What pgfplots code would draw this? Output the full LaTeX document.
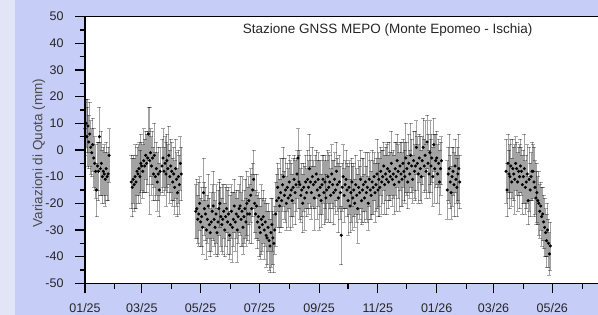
\documentclass[border=0pt]{standalone}
\usepackage{pgfplots}
\pgfplotsset{compat=1.18}
\usepackage{pgfplotstable}
\usepackage{fontspec}
\setmainfont{Liberation Sans}
\definecolor{bgcol}{HTML}{C6CDF6}
\definecolor{stripcol}{HTML}{E2E5F8}

\pgfplotstableread{
d y e
0 8 10
1 10 9
2 5 11
3 9 10
4 3 10
5 6 12
6 1 10
7 -1 9
8 2 10
9 -3 11
10 -5 10
11 -8 10
12 -15 10
13 -6 9
14 -8 11
15 5 11
16 -7 10
17 -5 12
18 -10 10
19 -8 9
20 -9 11
21 -11 10
22 -7 10
23 -10 9
24 -9 10
25 -2 10
48 -12 10
49 -14 11
50 -11 9
51 -13 10
52 -10 12
53 -12 10
54 -8 9
55 -9 11
56 -7 10
57 -10 10
58 -5 11
59 -6 9
60 -8 10
61 -4 12
62 -6 10
63 -2 9
64 -5 11
65 -3 10
66 6 10
67 -4 20
68 -1 9
69 -6 11
70 -3 10
71 -9 10
72 -2 12
73 -10 9
74 -7 10
75 -12 11
76 -9 10
77 -15 10
78 -8 9
80 -6 10
81 -3 11
82 -8 9
83 -5 10
84 -9 12
85 -4 10
86 -7 9
87 -2 11
88 -10 10
89 -6 10
90 -8 11
91 -12 9
92 -9 10
93 -14 10
94 -7 11
95 -11 10
96 -16 9
97 -10 10
98 -13 11
99 -5 10
100 -9 10
115 -23 10
116 -22 11
117 -26 9
118 -24 12
119 -20 10
120 -27 9
121 -25 11
122 -29 10
123 -16 13
124 -22 10
125 -24 10
126 -30 11
127 -26 9
128 -21 12
129 -28 10
130 -31 9
131 -27 11
132 -23 10
133 -21 13
134 -26 10
135 -29 10
136 -24 11
137 -31 9
138 -27 12
139 -22 10
140 -20 9
141 -25 11
142 -28 10
143 -26 13
144 -23 10
145 -30 10
146 -25 11
147 -22 9
148 -27 12
149 -24 10
150 -32 9
151 -28 11
152 -23 10
153 -29 13
154 -26 10
155 -21 10
156 -27 11
157 -24 9
158 -30 12
159 -25 10
160 -22 9
161 -21 11
162 -26 10
163 -23 13
164 -29 10
165 -25 10
166 -22 11
167 -27 9
168 -20 12
169 -24 10
170 -19 9
171 -24 11
172 -17 10
173 -22 13
174 -15 10
175 -11 11
176 -20 11
177 -24 9
178 -21 12
179 -27 10
180 -25 9
181 -29 11
182 -31 10
183 -26 13
184 -28 10
185 -25 10
186 -30 11
187 -27 9
188 -32 12
189 -33 10
190 -29 9
191 -34 11
192 -36 10
193 -31 13
194 -28 10
195 -33 10
196 -35 11
197 -30 9
198 -24 12
199 -19 10
200 -14 9
201 -18 11
202 -21 10
203 -16 13
204 -19 10
205 -13 10
206 -10 11
207 -17 9
208 -15 12
209 -20 10
210 -14 9
211 -18 11
212 -12 10
213 -17 13
214 -15 10
215 -19 10
216 -14 11
217 -11 9
218 -16 12
219 -13 10
220 -9 9
221 -3 11
222 -12 10
223 -13 13
224 -17 10
225 -15 10
226 -20 11
227 -14 9
228 -18 12
229 -12 10
230 -16 9
231 -11 11
232 -14 10
233 -7 13
234 -12 10
235 -16 10
236 -10 11
237 -13 9
238 -18 12
239 -12 10
240 -9 9
241 -15 11
242 -11 10
243 -17 13
244 -14 10
245 -19 10
246 -13 11
247 -11 9
248 -16 12
249 -12 10
250 -18 9
251 -15 11
252 -10 10
253 -14 13
254 -12 10
255 -17 10
256 -9 11
257 -13 9
258 -16 12
259 -11 10
260 -15 9
261 -8 11
262 -13 10
263 -18 13
264 -12 10
265 -16 10
266 -32 11
267 -14 9
268 -10 12
269 -17 10
270 -13 9
271 -11 11
272 -15 10
273 -19 13
274 -14 10
275 -21 10
276 -16 11
277 -12 9
278 -18 12
279 -15 10
280 -20 9
281 -13 11
282 -17 10
283 -22 13
284 -14 10
285 -16 10
286 -11 11
287 -19 9
288 -15 12
289 -13 10
290 -18 9
291 -12 11
292 -16 10
293 -14 13
294 -20 10
295 -11 10
296 -15 11
297 -17 9
298 -12 12
299 -14 10
300 -10 9
301 -16 11
302 -13 10
303 -9 13
304 -15 10
305 -11 10
306 -14 11
307 -8 9
308 -12 12
309 -10 10
310 -6 9
311 -13 11
312 -9 10
313 -11 13
314 -7 10
315 -12 10
316 -8 11
317 -10 9
318 -5 12
319 -11 10
320 -9 9
321 -13 11
322 -7 10
323 -10 13
324 -4 10
325 -8 10
326 -12 11
327 -6 9
328 -9 12
329 -11 10
330 -5 9
331 -8 11
332 -10 10
333 -3 13
334 -7 10
335 -12 10
336 -5 11
337 -9 9
338 -2 12
339 -6 10
340 -11 9
341 -4 11
342 -8 10
343 -6 13
344 1 10
345 -5 10
346 -9 11
347 -3 9
348 -7 12
349 -10 10
350 -4 9
351 1 11
352 -6 10
353 -2 13
354 -8 10
355 3 10
356 -5 11
357 -9 9
358 -1 12
359 -6 10
360 -3 9
361 -10 11
362 2 10
363 -7 13
364 -4 10
365 -3 10
366 -9 11
367 -5 9
368 -12 12
369 -7 10
370 -4 9
376 -15 11
377 -9 10
378 -7 13
379 -12 10
380 -16 10
381 -10 11
382 -8 9
383 -13 12
384 -6 10
385 -11 9
386 -14 11
387 -9 10
388 -7 13
389 -12 10
437 -8 12
438 -15 10
439 -5 11
440 -9 9
441 -10 12
442 -6 10
443 -12 9
444 -7 11
445 -9 10
446 -11 13
447 -5 10
448 -7 10
449 -12 11
450 -8 9
451 -10 12
452 -6 10
453 -8 9
454 -13 11
455 -10 10
456 -7 13
457 -14 10
458 -12 10
459 -9 11
460 -19 9
461 -11 12
462 -15 10
463 -10 9
464 -8 11
465 -8 10
466 -12 13
467 -14 10
468 -18 10
469 -16 11
470 -19 9
471 -20 12
472 -23 10
473 -21 9
474 -25 11
475 -24 10
476 -27 10
477 -29 11
478 -31 9
479 -34 10
480 -30 10
481 -35 9
482 -39 8
483 -36 9
}\gnss

\begin{document}
\begin{tikzpicture}[x=1pt,y=1pt]
\useasboundingbox (0,0) rectangle (598,315);
\fill[bgcol] (0,0) rectangle (598,315);
\fill[stripcol] (0,0) rectangle (15,315);
\clip (0,0) rectangle (598,315);
\begin{axis}[
  at={(85pt,31.7pt)}, anchor=south west,
  scale only axis, width=539.56pt, height=266.6pt,
  xmin=0, xmax=560, ymin=-50, ymax=50,
  axis background/.style={fill=white},
  axis line style={black, line width=1.2pt},
  tick style={black, line width=1.1pt},
  tick align=outside,
  major tick length=10pt, minor tick length=5.5pt,
  xtick pos=bottom, ytick pos=left,
  xtick={0,59,120,181,243,304,365,424,485},
  xticklabels={01/25,03/25,05/25,07/25,09/25,11/25,01/26,03/26,05/26},
  minor xtick={31,90,151,212,273,334,396,455,516},
  ytick={-50,-40,...,50},
  yticklabels={-50,-40,-30,-20,-10,0,10,20,30,40,50},
  minor ytick={-45,-35,...,45},
  tick label style={font=\fontsize{12.5}{13}\selectfont, text=black!85},
  xticklabel style={yshift=-7pt},
  yticklabel style={xshift=-8pt},
]
\addplot+[only marks, mark=*, mark size=1.35pt, black,
  mark options={fill=black, draw=black},
  error bars/.cd, y dir=both, y explicit,
  error bar style={black, opacity=0.36, line width=0.8pt},
  error mark options={rotate=90, black, opacity=0.36, mark size=2pt, line width=0.8pt}]
  table[x=d, y=y, y error=e]{\gnss};
\end{axis}
\node[anchor=west, font=\fontsize{13.5}{14}\selectfont, text=black!85] at (239.3,285) {Stazione GNSS MEPO (Monte Epomeo - Ischia)};
\node[rotate=90, font=\fontsize{13.5}{14}\selectfont, text=black!70] at (39,162) {Variazioni di Quota (mm)};
\end{tikzpicture}
\end{document}
